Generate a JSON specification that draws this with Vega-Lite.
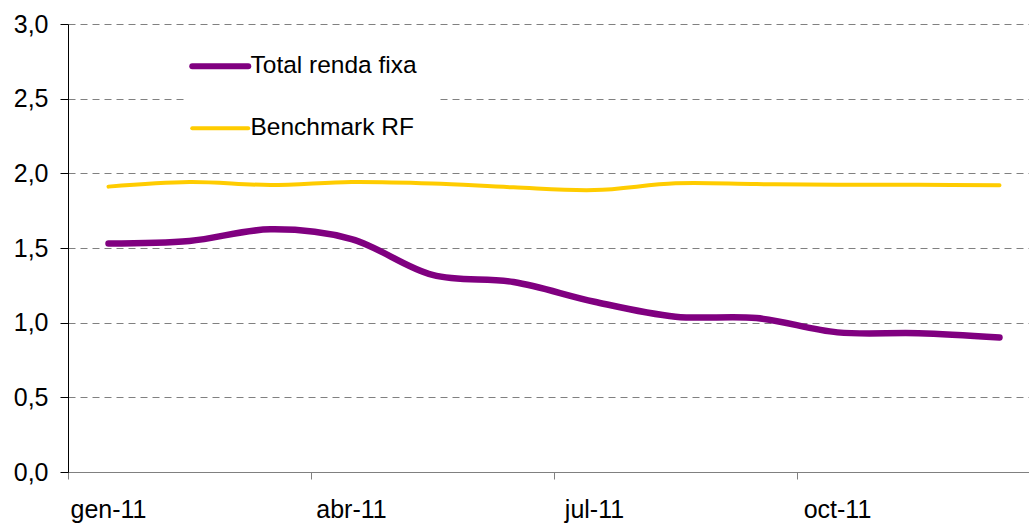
{
  "$schema": "https://vega.github.io/schema/vega-lite/v6.json",
  "autosize": {"type": "none"},
  "padding": {"left": 68, "top": 24, "right": 0, "bottom": 52},
  "width": 972,
  "height": 448,
  "background": "white",
  "config": {
    "font": "Liberation Sans",
    "view": {"stroke": null},
    "axis": {"labelFont": "Liberation Sans", "labelColor": "black", "labelFontSize": 25}
  },
  "data": {
    "values": [
      {"month": "gen-11", "series": "Total renda fixa", "value": 1.53},
      {"month": "feb-11", "series": "Total renda fixa", "value": 1.547},
      {"month": "mar-11", "series": "Total renda fixa", "value": 1.625},
      {"month": "abr-11", "series": "Total renda fixa", "value": 1.56},
      {"month": "mai-11", "series": "Total renda fixa", "value": 1.32},
      {"month": "jun-11", "series": "Total renda fixa", "value": 1.272},
      {"month": "jul-11", "series": "Total renda fixa", "value": 1.14},
      {"month": "ago-11", "series": "Total renda fixa", "value": 1.04},
      {"month": "set-11", "series": "Total renda fixa", "value": 1.031},
      {"month": "oct-11", "series": "Total renda fixa", "value": 0.935},
      {"month": "nov-11", "series": "Total renda fixa", "value": 0.929},
      {"month": "des-11", "series": "Total renda fixa", "value": 0.9},
      {"month": "gen-11", "series": "Benchmark RF", "value": 1.911},
      {"month": "feb-11", "series": "Benchmark RF", "value": 1.942},
      {"month": "mar-11", "series": "Benchmark RF", "value": 1.922},
      {"month": "abr-11", "series": "Benchmark RF", "value": 1.942},
      {"month": "mai-11", "series": "Benchmark RF", "value": 1.932},
      {"month": "jun-11", "series": "Benchmark RF", "value": 1.906},
      {"month": "jul-11", "series": "Benchmark RF", "value": 1.888},
      {"month": "ago-11", "series": "Benchmark RF", "value": 1.933},
      {"month": "set-11", "series": "Benchmark RF", "value": 1.928},
      {"month": "oct-11", "series": "Benchmark RF", "value": 1.924},
      {"month": "nov-11", "series": "Benchmark RF", "value": 1.924},
      {"month": "des-11", "series": "Benchmark RF", "value": 1.92}
    ]
  },
  "encoding": {
    "x": {
      "field": "month",
      "type": "ordinal",
      "sort": null,
      "scale": {"type": "band", "paddingInner": 0, "paddingOuter": 0},
      "axis": {
        "title": null,
        "values": ["gen-11", "abr-11", "jul-11", "oct-11"],
        "bandPosition": 0,
        "labelOffset": 0,
        "labelAngle": 0,
        "labelAlign": "center",
        "labelBaseline": "top",
        "tickSize": 7,
        "tickColor": "#808080",
        "domainColor": "#808080",
        "labelPadding": 18,
        "grid": false
      }
    },
    "y": {
      "field": "value",
      "type": "quantitative",
      "scale": {"domain": [0, 3], "nice": false},
      "axis": {
        "title": null,
        "values": [0, 0.5, 1, 1.5, 2, 2.5, 3],
        "labelExpr": "replace(format(datum.value, '.1f'), '.', ',')",
        "tickSize": 8,
        "tickColor": "black",
        "domainColor": "black",
        "labelPadding": 12,
        "grid": true,
        "gridColor": "#808080",
        "gridDash": [7, 5],
        "gridWidth": 1
      }
    },
    "color": {
      "field": "series",
      "type": "nominal",
      "scale": {"domain": ["Total renda fixa", "Benchmark RF"], "range": ["#800080", "#FFCC00"]},
      "legend": {
        "title": null,
        "orient": "none",
        "legendX": 120,
        "legendY": 10,
        "padding": 20,
        "fillColor": "white",
        "symbolType": "stroke",
        "symbolSize": 3136,
        "symbolStrokeWidth": 5,
        "labelFontSize": 24.5,
        "labelFont": "Liberation Sans",
        "labelColor": "black",
        "labelOffset": 18,
        "labelLimit": 500,
        "rowPadding": 36,
        "encode": {
          "symbols": {"update": {"strokeWidth": {"signal": "datum.value === 'Total renda fixa' ? 6 : 4"}, "strokeCap": {"value": "round"}}}
        }
      }
    }
  },
  "layer": [
    {
      "transform": [{"filter": "datum.series === 'Benchmark RF'"}],
      "mark": {"type": "line", "interpolate": "catmull-rom", "strokeWidth": 4, "strokeCap": "round"}
    },
    {
      "transform": [{"filter": "datum.series === 'Total renda fixa'"}],
      "mark": {"type": "line", "interpolate": "catmull-rom", "strokeWidth": 6.5, "strokeCap": "round"}
    }
  ]
}
